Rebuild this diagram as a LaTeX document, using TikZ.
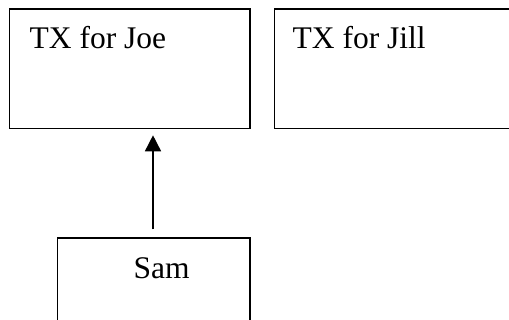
\documentclass[tikz,border=0pt]{standalone}
\usepackage{fontspec}
\setmainfont{Liberation Serif}
\usetikzlibrary{arrows.meta}
\begin{document}
\begin{tikzpicture}[x=1pt,y=1pt,
  boxstyle/.style={draw,line width=1.5pt,rectangle,inner sep=0pt},
  lbl/.style={anchor=base west,inner sep=0pt,font=\fontsize{31.5}{36}\selectfont},
  arr/.style={line width=1.5pt,-{Triangle[width=16pt,length=16pt]}}]
\useasboundingbox (0,0) rectangle (509,320);
\node[boxstyle,minimum width=240.5pt,minimum height=119.5pt,anchor=north west] (joe) at (8.5,311.7) {};
\node[boxstyle,minimum width=250pt,minimum height=119.5pt,anchor=north west] (jill) at (273.5,311.7) {};
\node[boxstyle,minimum width=192.3pt,minimum height=100pt,anchor=north west] (sam) at (56.7,82.7) {};
\node[lbl] (joet) at (29.5,271.7) {TX for Joe};
\node[lbl] (jillt) at (292.5,271.7) {TX for Jill};
\node[lbl] (samt) at (133.5,41.7) {Sam};
\coordinate (samtop) at (153,82.7);
\draw[arr,shorten <=8pt,shorten >=6pt] (samtop) -- (samtop |- joe.south);
\end{tikzpicture}
\end{document}
